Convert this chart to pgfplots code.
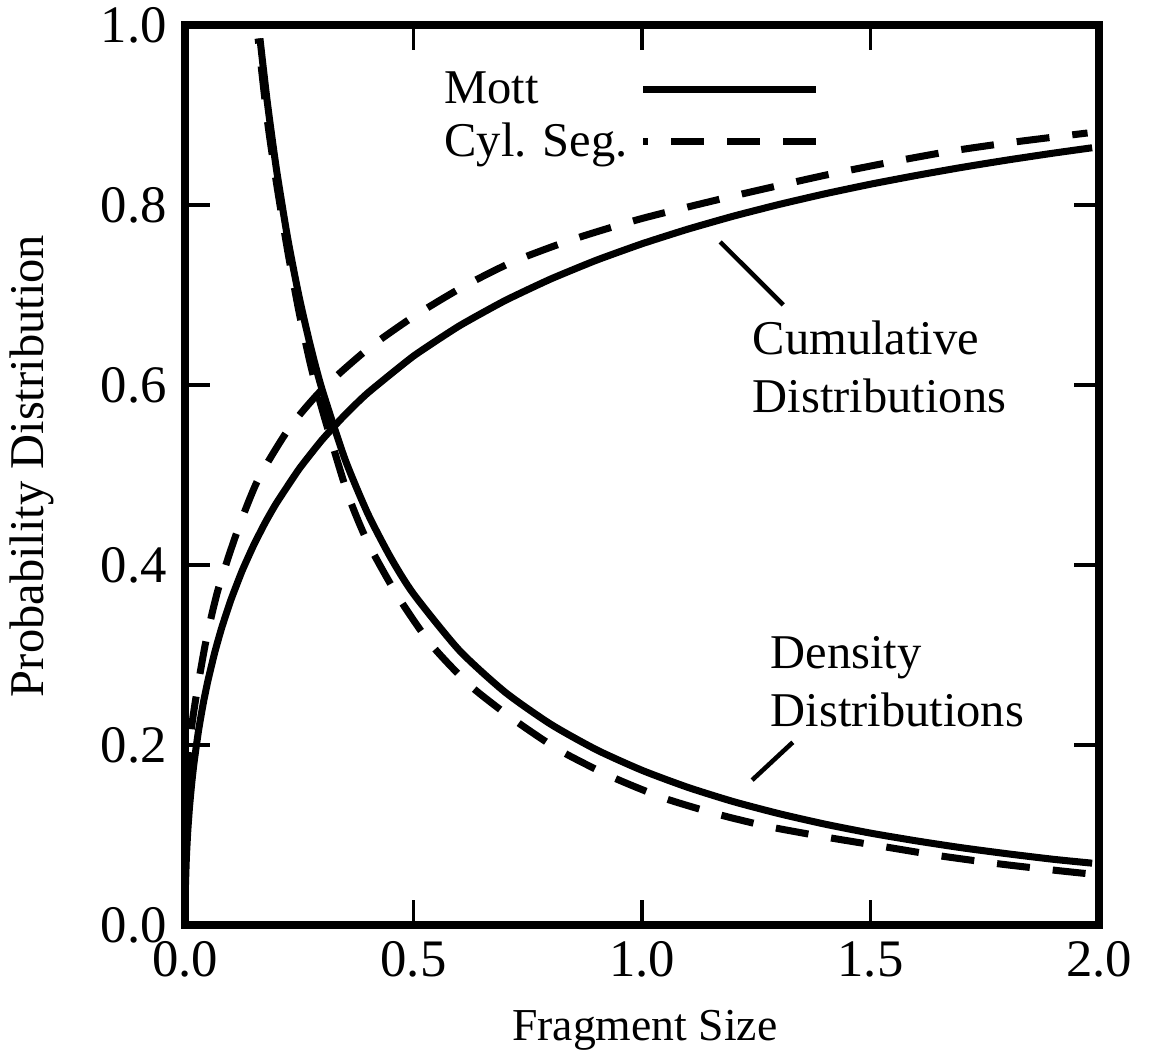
\documentclass[border=0pt]{standalone}
\usepackage{fontspec}
\setmainfont{Liberation Serif}
\usepackage{pgfplots}
\pgfplotsset{compat=1.18}

\newcommand{\lblfont}{\fontsize{13.8}{16.6}\selectfont}
\newcommand{\xlblfont}{\fontsize{13}{15.6}\selectfont}
\newcommand{\tckfont}{\fontsize{15}{18}\selectfont}

\begin{document}
\begin{tikzpicture}
\useasboundingbox (0,0) rectangle (115.1mm,106.2mm);
\begin{axis}[
    at={(18.5mm,13.7mm)}, anchor=south west,
    scale only axis,
    width=91.4mm, height=90mm,
    xmin=0, xmax=2, ymin=0, ymax=1,
    xtick={0,0.5,1,1.5,2},
    ytick={0,0.2,0.4,0.6,0.8,1},
    /pgf/number format/fixed,
    /pgf/number format/fixed zerofill,
    /pgf/number format/precision=1,
    /pgf/number format/assume math mode=true,
    tick align=inside,
    major tick length=2.5mm,
    every tick/.style={black, line width=1.1pt},
    axis line style={line width=2pt},
    xticklabel style={font=\tckfont, yshift=-0.4mm},
    yticklabel style={font=\tckfont, xshift=-0.6mm},
    xlabel={Fragment Size},
    ylabel={Probability Distribution},
    every axis x label/.style={at={(axis description cs:0.503,-0.117)}, anchor=center, font=\xlblfont},
    every axis y label/.style={at={(axis description cs:-0.167,0.51)}, rotate=90, anchor=center, font=\lblfont},
    legend style={draw=none, fill=none, at={(axis description cs:0.264,0.965)}, anchor=north west,
        font=\lblfont, column sep=0.5mm, row sep=0pt},
    legend cell align=left,
    legend plot pos=right,
    legend image code/.code={\draw[#1] (0mm,0mm) -- (17.3mm,0mm);},
    mott/.style={black, line width=2pt},
    cylseg/.style={black, line width=2pt, dash pattern=on 3.3mm off 2.3mm, dash phase=2.8mm},
]
% Mott cumulative
\addplot[mott, smooth, tension=0.3] coordinates {
    (0,0) (0.0002,0.0198) (0.001,0.0437) (0.003,0.0745) (0.006,0.1038)
    (0.01,0.1319) (0.015,0.1590) (0.02,0.1813) (0.03,0.2173) (0.04,0.2464)
    (0.05,0.2711) (0.065,0.3027) (0.08,0.3297) (0.1,0.3606) (0.125,0.3935)
    (0.15,0.4217) (0.175,0.4466) (0.2,0.4687) (0.25,0.5069) (0.3,0.5391)
    (0.35,0.5668) (0.4,0.5912) (0.5,0.6321) (0.6,0.6656) (0.7,0.6937)
    (0.8,0.7177) (0.9,0.7386) (1.0,0.7569) (1.1,0.7731) (1.2,0.7876)
    (1.3,0.8006) (1.4,0.8124) (1.5,0.8231) (1.6,0.8328) (1.7,0.8418)
    (1.8,0.8500) (1.9,0.8576) (1.985,0.8636)
};
\addlegendentry{Mott}
% Cylindrical segment cumulative
\addplot[cylseg, smooth, tension=0.4] coordinates {
    (0,0) (0.0003,0.06) (0.001,0.095) (0.003,0.135) (0.007,0.18)
    (0.015,0.222) (0.026,0.259) (0.046,0.316) (0.072,0.372) (0.114,0.437)
    (0.16,0.495) (0.228,0.552) (0.30,0.595) (0.40,0.640) (0.50,0.676)
    (0.608,0.709) (0.718,0.737) (0.85,0.762) (1.0,0.785) (1.2,0.81)
    (1.4,0.833) (1.558,0.849) (1.678,0.86) (1.80,0.869) (1.926,0.877)
    (1.975,0.880)
};
\addlegendentry{Cyl. Seg.}
% Mott density
\addplot[mott, smooth, tension=0.4, forget plot] coordinates {
    (0.164,0.985) (0.18,0.9147) (0.2,0.8400) (0.225,0.7622) (0.25,0.6973)
    (0.275,0.6423) (0.3,0.5950) (0.35,0.5177) (0.4,0.4571) (0.45,0.4083)
    (0.5,0.3679) (0.6,0.3053) (0.7,0.2589) (0.8,0.2232) (0.9,0.1948)
    (1.0,0.1719) (1.1,0.1530) (1.2,0.1371) (1.3,0.1237) (1.4,0.1121)
    (1.5,0.1021) (1.6,0.0935) (1.7,0.0858) (1.8,0.0791) (1.9,0.0730)
    (1.985,0.0687)
};
% Cylindrical segment density
\addplot[cylseg, smooth, tension=0.4, forget plot] coordinates {
    (0.160,0.985) (0.18,0.895) (0.20,0.825) (0.225,0.748) (0.25,0.68)
    (0.275,0.622) (0.30,0.573) (0.354,0.482) (0.40,0.425) (0.466,0.365)
    (0.538,0.312) (0.624,0.266) (0.72,0.228) (0.82,0.194) (0.932,0.165)
    (1.048,0.141) (1.166,0.123) (1.28,0.109) (1.41,0.097) (1.53,0.087)
    (1.65,0.077) (1.78,0.068) (1.90,0.061) (1.975,0.057)
};
% annotations
\draw[line width=1.3pt] (axis cs:1.171,0.759) -- (axis cs:1.309,0.689);
\node[anchor=west, align=left, font=\lblfont, inner sep=0pt] at (axis cs:1.241,0.62) {Cumulative\\Distributions};
\draw[line width=1.3pt] (axis cs:1.330,0.203) -- (axis cs:1.241,0.161);
\node[anchor=west, align=left, font=\lblfont, inner sep=0pt] at (axis cs:1.28,0.27) {Density\\Distributions};
\end{axis}
\end{tikzpicture}
\end{document}
